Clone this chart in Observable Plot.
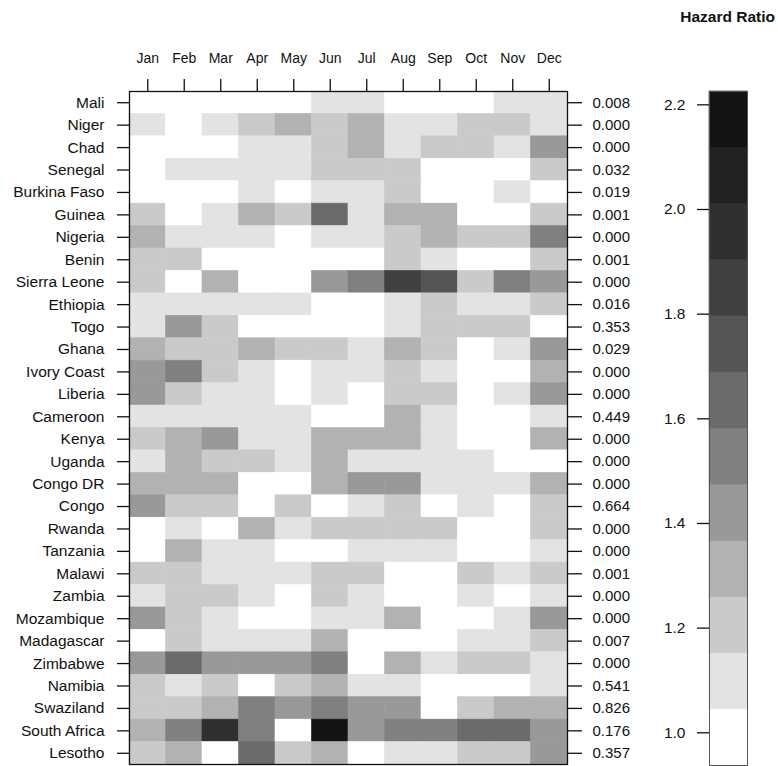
<!DOCTYPE html>
<html>
<head>
<meta charset="utf-8">
<script src="https://cdn.jsdelivr.net/npm/d3@7"></script>
<script src="https://cdn.jsdelivr.net/npm/@observablehq/plot@0.6"></script>
<style>
  html, body { margin: 0; padding: 0; background: white; }
  #wrap { position: relative; width: 778px; height: 766px; font-family: "Liberation Sans", Arial, sans-serif; }
  #wrap svg { position: absolute; left: 0; top: 0; }
  #legendTitle { position: absolute; right: 3px; top: 8px; font-weight: bold; font-size: 15.5px; line-height: 18px; color: #111; }
</style>
</head>
<body>
<div id="wrap"><div id="legendTitle">Hazard Ratio</div></div>
<script>
const months = ["Jan","Feb","Mar","Apr","May","Jun","Jul","Aug","Sep","Oct","Nov","Dec"];
const countries = ["Mali","Niger","Chad","Senegal","Burkina Faso","Guinea","Nigeria","Benin","Sierra Leone","Ethiopia","Togo","Ghana","Ivory Coast","Liberia","Cameroon","Kenya","Uganda","Congo DR","Congo","Rwanda","Tanzania","Malawi","Zambia","Mozambique","Madagascar","Zimbabwe","Namibia","Swaziland","South Africa","Lesotho"];
const pValues = ["0.008","0.000","0.000","0.032","0.019","0.001","0.000","0.001","0.000","0.016","0.353","0.029","0.000","0.000","0.449","0.000","0.000","0.000","0.664","0.000","0.000","0.001","0.000","0.000","0.007","0.000","0.541","0.826","0.176","0.357"];
// hazard ratio per country (rows) and month (columns)
const hazardRatios = [
  [1.00,1.00,1.00,1.00,1.00,1.10,1.10,1.00,1.00,1.00,1.10,1.10], // Mali
  [1.10,1.00,1.10,1.21,1.31,1.21,1.31,1.10,1.10,1.21,1.21,1.10], // Niger
  [1.00,1.00,1.00,1.10,1.10,1.21,1.31,1.10,1.21,1.21,1.10,1.42], // Chad
  [1.00,1.10,1.10,1.10,1.10,1.21,1.21,1.21,1.00,1.00,1.00,1.21], // Senegal
  [1.00,1.00,1.00,1.10,1.00,1.10,1.10,1.21,1.00,1.00,1.10,1.00], // Burkina Faso
  [1.21,1.00,1.10,1.31,1.21,1.63,1.10,1.31,1.31,1.00,1.00,1.21], // Guinea
  [1.31,1.10,1.10,1.10,1.00,1.10,1.10,1.21,1.31,1.21,1.21,1.53], // Nigeria
  [1.21,1.21,1.00,1.00,1.00,1.00,1.00,1.21,1.10,1.00,1.00,1.21], // Benin
  [1.21,1.00,1.31,1.00,1.00,1.42,1.53,1.85,1.74,1.21,1.53,1.42], // Sierra Leone
  [1.10,1.10,1.10,1.10,1.10,1.00,1.00,1.10,1.21,1.10,1.10,1.21], // Ethiopia
  [1.10,1.42,1.21,1.00,1.00,1.00,1.00,1.10,1.21,1.21,1.21,1.00], // Togo
  [1.31,1.21,1.21,1.31,1.21,1.21,1.10,1.31,1.21,1.00,1.10,1.42], // Ghana
  [1.42,1.53,1.21,1.10,1.00,1.10,1.10,1.21,1.10,1.00,1.00,1.31], // Ivory Coast
  [1.42,1.21,1.10,1.10,1.00,1.10,1.00,1.21,1.21,1.00,1.10,1.42], // Liberia
  [1.10,1.10,1.10,1.10,1.10,1.00,1.00,1.31,1.10,1.00,1.00,1.10], // Cameroon
  [1.21,1.31,1.42,1.10,1.10,1.31,1.31,1.31,1.10,1.00,1.00,1.31], // Kenya
  [1.10,1.31,1.21,1.21,1.10,1.31,1.10,1.10,1.10,1.10,1.00,1.00], // Uganda
  [1.31,1.31,1.31,1.00,1.00,1.31,1.42,1.42,1.10,1.10,1.10,1.31], // Congo DR
  [1.42,1.21,1.21,1.00,1.21,1.00,1.10,1.21,1.00,1.10,1.00,1.21], // Congo
  [1.00,1.10,1.00,1.31,1.10,1.21,1.21,1.21,1.21,1.00,1.00,1.21], // Rwanda
  [1.00,1.31,1.10,1.10,1.00,1.00,1.10,1.10,1.10,1.00,1.00,1.10], // Tanzania
  [1.21,1.21,1.10,1.10,1.10,1.21,1.21,1.00,1.00,1.21,1.10,1.21], // Malawi
  [1.10,1.21,1.21,1.10,1.00,1.21,1.10,1.00,1.00,1.10,1.00,1.10], // Zambia
  [1.42,1.21,1.10,1.00,1.00,1.10,1.10,1.31,1.00,1.00,1.10,1.42], // Mozambique
  [1.00,1.21,1.10,1.10,1.10,1.31,1.00,1.00,1.00,1.10,1.10,1.21], // Madagascar
  [1.42,1.63,1.42,1.42,1.42,1.53,1.00,1.31,1.10,1.21,1.21,1.10], // Zimbabwe
  [1.21,1.10,1.21,1.00,1.21,1.31,1.10,1.10,1.00,1.00,1.00,1.10], // Namibia
  [1.21,1.21,1.31,1.53,1.42,1.53,1.42,1.42,1.00,1.21,1.31,1.31], // Swaziland
  [1.31,1.53,1.96,1.53,1.00,2.17,1.42,1.53,1.53,1.63,1.63,1.42], // South Africa
  [1.21,1.31,1.00,1.63,1.21,1.31,1.00,1.10,1.10,1.21,1.21,1.42]  // Lesotho
];
// colour key: 12 grey classes between these breaks
const breaks = [0.9375,1.0448,1.1522,1.2595,1.3668,1.4742,1.5815,1.6888,1.7962,1.9035,2.0108,2.1182,2.2255];
const greys = ["#ffffff","#e3e3e3","#cacaca","#b2b2b2","#999999","#808080","#6b6b6b","#555555","#404040","#303030","#222222","#141414"];
const legendTicks = [1.0,1.2,1.4,1.6,1.8,2.0,2.2];

const cells = countries.flatMap((c, i) => months.map((m, j) => ({country: c, month: m, hr: hazardRatios[i][j]})));
const bins = greys.map((g, k) => ({lo: breaks[k], hi: breaks[k + 1], mid: (breaks[k] + breaks[k + 1]) / 2}));

const colorScale = {type: "threshold", domain: breaks.slice(1, -1), range: greys};
const font = "'Liberation Sans', Arial, sans-serif";

const main = Plot.plot({
  width: 778, height: 766,
  marginLeft: 129, marginRight: 211, marginTop: 91, marginBottom: 2,
  style: {fontFamily: font, fontSize: "15.5px", color: "#111", background: "white"},
  x: {domain: months, padding: 0, round: false, axis: null},
  y: {domain: countries, padding: 0, round: false, axis: null},
  color: colorScale,
  marks: [
    Plot.cell(cells, {x: "month", y: "country", fill: "hr", stroke: "hr", strokeWidth: 0.6, inset: 0}),
    Plot.frame({stroke: "#111", strokeWidth: 1.3}),
    Plot.axisX({anchor: "top", tickSize: 13, tickPadding: 16, fontSize: 14, label: null, stroke: "#111", strokeWidth: 1.3}),
    Plot.axisY({anchor: "left", tickSize: 12, tickPadding: 13, label: null, stroke: "#111", strokeWidth: 1.3}),
    Plot.axisY({anchor: "right", tickSize: 14, tickPadding: 11, fontSize: 15, label: null, stroke: "#111", strokeWidth: 1.3,
      tickFormat: d => pValues[countries.indexOf(d)]})
  ]
});

const legend = Plot.plot({
  width: 778, height: 766,
  marginLeft: 709, marginRight: 31, marginTop: 91, marginBottom: 1,
  style: {fontFamily: font, fontSize: "15.5px", color: "#111", background: "transparent"},
  x: {domain: [0, 1], axis: null},
  y: {domain: [breaks[0], breaks[breaks.length - 1]], axis: null},
  color: colorScale,
  marks: [
    Plot.rect(bins, {x1: 0, x2: 1, y1: "lo", y2: "hi", fill: "mid", stroke: "mid", strokeWidth: 0.6}),
    Plot.frame({stroke: "#555", strokeWidth: 1}),
    Plot.axisY({anchor: "left", ticks: legendTicks, tickSize: 12, tickPadding: 12, label: null,
      tickFormat: d3.format(".1f"), stroke: "#111", strokeWidth: 1.3})
  ]
});

const wrap = document.getElementById("wrap");
wrap.insertBefore(main, wrap.firstChild);
wrap.insertBefore(legend, document.getElementById("legendTitle"));
</script>
</body>
</html>
